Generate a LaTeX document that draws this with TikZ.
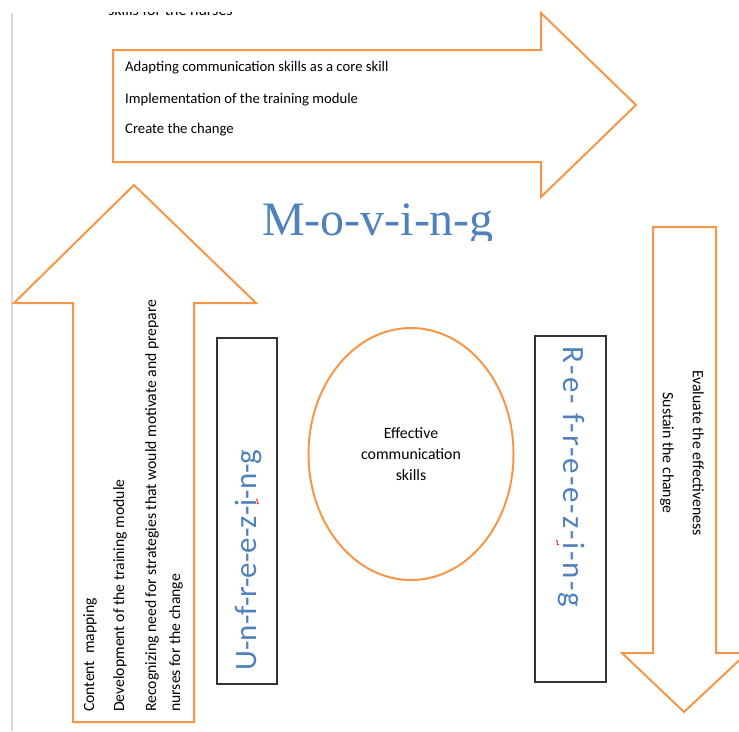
\documentclass[tikz,border=0pt]{standalone}
\usepackage{fontspec}
\setmainfont{Carlito}
\newfontfamily\movingfont{Liberation Serif}
\newfontfamily\spacedfont[LetterSpace=6.5]{Carlito}
\usetikzlibrary{shapes.geometric}
\definecolor{stageorange}{RGB}{247,150,70}
\definecolor{stageblue}{RGB}{79,129,189}
\tikzstyle{bigarrow} = [draw=stageorange, line width=2pt, line join=miter, fill=white]
\tikzstyle{itemtext} = [font=\fontsize{14.7}{17}\selectfont, inner sep=0pt]
\tikzstyle{sidetext} = [font=\fontsize{15.7}{19}\selectfont, inner sep=0pt]
\tikzstyle{stagebox} = [rectangle, draw=black!80, line width=1.2pt, inner sep=0pt]
\tikzstyle{stagelabel} = [font=\fontsize{31}{36}\selectfont, text=stageblue, inner sep=0pt]
\tikzstyle{core} = [ellipse, draw=stageorange, line width=2pt, inner sep=0pt, align=center, font=\fontsize{15.8}{21}\selectfont]

\begin{document}
\begin{tikzpicture}[x=1pt, y=-1pt]
    \useasboundingbox (0,0) rectangle (739,731);

    % page edge
    \draw[black!15, line width=2.5pt] (12,13) -- (12,731);

    % Arrows
    \draw[bigarrow] (113,50) -- (541,50) -- (541,13) -- (636,105) -- (541,197) -- (541,162) -- (113,162) -- cycle;
    \draw[bigarrow] (73,722) -- (73,303) -- (14,303) -- (134,185) -- (256,303) -- (194,303) -- (194,722) -- cycle;
    \draw[bigarrow] (653,227) -- (716,227) -- (716,653) -- (747,653) -- (684,712) -- (622,653) -- (653,653) -- cycle;

    % cut-off line at the top
    \begin{scope}
        \clip (0,12.5) rectangle (739,731);
        \node[itemtext, anchor=base west, font=\fontsize{16}{19}\selectfont] (prevline) at (108,15.5) {skills for the nurses};
    \end{scope}

    % Nodes
    \node[itemtext, anchor=west] (adapting) at (125,68) {Adapting communication skills as a core skill};
    \node[itemtext, anchor=west] (implement) at (125,100) {Implementation of the training module};
    \node[itemtext, anchor=west] (create) at (125,130) {Create the change};

    \begin{scope}
        \clip (0,0) rectangle (739,240);
        \node[font=\movingfont\fontsize{48}{56}\selectfont, text=stageblue, anchor=base, inner sep=0pt] (moving) at (378,235) {M-o-v-i-n-g};
    \end{scope}

    \node[sidetext, rotate=90, anchor=west] (content) at (90,712) {Content\ \ mapping};
    \node[sidetext, rotate=90, anchor=west] (develop) at (120,712) {Development of the training module};
    \node[sidetext, rotate=90, anchor=west] (recognize) at (152,712) {Recognizing need for strategies that would motivate and prepare};
    \node[sidetext, rotate=90, anchor=west] (nurses) at (176,712) {nurses for the change};

    \node[stagebox, minimum width=60pt, minimum height=346pt] (unfreezebox) at (247,511) {};
    \node[stagelabel, rotate=90] (unfreeze) at (248,560) {U-n-f-r-e-e-z-i-n-g};

    \node[core, minimum width=205pt, minimum height=252pt] (skills) at (411,454) {Effective\\communication\\skills};

    \node[stagebox, minimum width=71pt, minimum height=346pt] (refreezebox) at (570.5,509) {};
    \node[stagelabel, rotate=-90, font=\spacedfont\fontsize{31}{36}\selectfont] (refreeze) at (571,477) {R-e- f-r-e-e-z-i-n-g};

    \node[sidetext, rotate=-90, align=center, font=\fontsize{15.8}{30}\selectfont] (evaluate) at (682,453) {Evaluate the effectiveness\\Sustain the change};

    % spell marks
    \draw[red, line width=0.8pt] (256,499) .. controls (259,499) and (255,504) .. (259,504);
    \draw[red, line width=0.8pt] (556,540) .. controls (559,540) and (555,545) .. (559,545);

\end{tikzpicture}
\end{document}
